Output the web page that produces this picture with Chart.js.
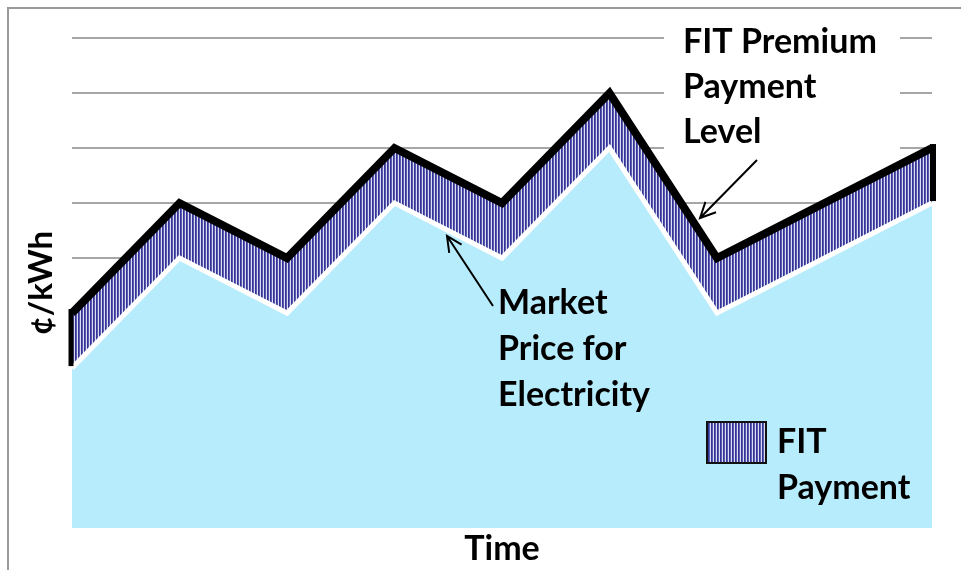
<!DOCTYPE html>
<html lang="en">
<head>
<meta charset="UTF-8">
<title>FIT Premium Payment</title>
<script src="https://cdn.jsdelivr.net/npm/chart.js@4.4.0/dist/chart.umd.min.js"></script>
<style>
  * { margin: 0; padding: 0; box-sizing: border-box; }
  body { background: #fff; width: 961px; height: 570px; overflow: hidden; }
</style>
</head>
<body>
<canvas id="chart" width="961" height="570"></canvas>
<script>
// data (1 unit = one gridline step)
const periods = ['t1', 't2', 't3', 't4', 't5', 't6', 't7', 't8', 't9'];
const marketPrice = [3, 5, 4, 6, 5, 7, 4, 5, 6];
const fitLevel = [4, 6, 5, 7, 6, 8, 5, 6, 7];
const gridTicks = [5, 6, 7, 8, 9];

const FONT = 'bold 34px Lato, "Open Sans", sans-serif';
const BLUE = 'rgb(183,236,252)';

const canvas = document.getElementById('chart');
const ctx = canvas.getContext('2d');

// vertical hatch (navy / lavender / white stripes)
function makeHatch(c) {
  const p = document.createElement('canvas');
  p.width = 3; p.height = 4;
  const pc = p.getContext('2d');
  ['#333399', '#5c5cad', '#dcdcf0'].forEach((col, i) => {
    pc.fillStyle = col;
    pc.fillRect(i, 0, 1, 4);
  });
  return c.createPattern(p, 'repeat');
}
const hatch = makeHatch(ctx);

function arrow(c, x1, y1, x2, y2) {
  const a = Math.atan2(y2 - y1, x2 - x1);
  const len = 17, spread = 0.45;
  c.save();
  c.strokeStyle = '#000';
  c.lineWidth = 2;
  c.beginPath();
  c.moveTo(x1, y1); c.lineTo(x2, y2);
  c.moveTo(x2 - len * Math.cos(a - spread), y2 - len * Math.sin(a - spread));
  c.lineTo(x2, y2);
  c.lineTo(x2 - len * Math.cos(a + spread), y2 - len * Math.sin(a + spread));
  c.stroke();
  c.restore();
}

function lines(c, arr, x, y0, step) {
  arr.forEach((t, i) => c.fillText(t, x, y0 + i * step));
}

const decor = {
  id: 'decor',
  beforeDraw(chart) {
    const c = chart.ctx;
    c.save();
    c.strokeStyle = '#999';
    c.lineWidth = 2;
    c.strokeRect(8, 8, 1200, 1200);
    c.restore();
  },
  afterDatasetsDraw(chart) {
    const c = chart.ctx;
    const xs = chart.scales.x, ys = chart.scales.y;
    const last = periods.length - 1;
    c.save();
    // side edges of the FIT band
    c.strokeStyle = '#000';
    c.lineCap = 'butt';
    c.lineWidth = 5;
    c.beginPath();
    c.moveTo(xs.getPixelForValue(0) - 1, ys.getPixelForValue(fitLevel[0]) - 4);
    c.lineTo(xs.getPixelForValue(0) - 1, ys.getPixelForValue(marketPrice[0]) - 2);
    c.stroke();
    c.lineWidth = 6;
    c.beginPath();
    c.moveTo(xs.getPixelForValue(last) + 1, ys.getPixelForValue(fitLevel[last]) - 4);
    c.lineTo(xs.getPixelForValue(last) + 1, ys.getPixelForValue(marketPrice[last]) - 2);
    c.stroke();

    // label box top right
    c.fillStyle = '#fff';
    c.fillRect(664, 12, 236, 143);
    c.fillStyle = '#000';
    c.font = FONT;
    c.textAlign = 'left';
    c.textBaseline = 'alphabetic';
    lines(c, ['FIT Premium', 'Payment', 'Level'], 683, 53, 45);
    arrow(c, 757, 160, 700, 218);

    lines(c, ['Market', 'Price for', 'Electricity'], 498, 314, 46);
    arrow(c, 493, 306, 447, 236);

    // legend
    c.fillStyle = hatch;
    c.fillRect(707, 422, 59, 41);
    c.strokeStyle = '#111';
    c.lineWidth = 2;
    c.strokeRect(707, 422, 59, 41);
    c.fillStyle = '#000';
    lines(c, ['FIT', 'Payment'], 777, 453, 46);
    c.restore();
  }
};

new Chart(ctx, {
  type: 'line',
  data: {
    labels: periods,
    datasets: [
      {
        label: 'Market Price for Electricity',
        data: marketPrice,
        borderColor: '#fff',
        borderWidth: 5,
        borderJoinStyle: 'miter',
        backgroundColor: BLUE,
        fill: 'origin',
        pointRadius: 0,
        tension: 0,
      },
      {
        label: 'FIT Premium Payment Level',
        data: fitLevel,
        borderColor: '#000',
        borderWidth: 8,
        borderJoinStyle: 'miter',
        backgroundColor: hatch,
        fill: 0,
        pointRadius: 0,
        tension: 0,
      }
    ]
  },
  options: {
    responsive: false,
    animation: false,
    layout: { padding: { left: 20, right: 29, top: 38, bottom: 0 } },
    plugins: {
      legend: { display: false },
      tooltip: { enabled: false },
    },
    scales: {
      x: {
        offset: false,
        grid: { display: false, drawTicks: false },
        border: { display: false },
        ticks: { display: false },
        title: {
          display: true, text: 'Time', color: '#000',
          font: { family: 'Lato', size: 34, weight: 'bold', lineHeight: 1.2 },
          padding: { top: 0, bottom: 1 },
        },
      },
      y: {
        min: 0.09,
        max: 9,
        afterBuildTicks: (s) => { s.ticks = gridTicks.map(v => ({ value: v })); },
        grid: { color: '#a6a6a6', lineWidth: 2, drawTicks: false },
        border: { display: false },
        ticks: { display: false },
        title: {
          display: true, text: '¢/kWh', color: '#000',
          font: { family: 'Lato', size: 33, weight: 'bold', lineHeight: 1.2 },
          padding: { top: 2, bottom: 10.4 },
        },
      }
    }
  },
  plugins: [decor]
});
</script>
</body>
</html>
